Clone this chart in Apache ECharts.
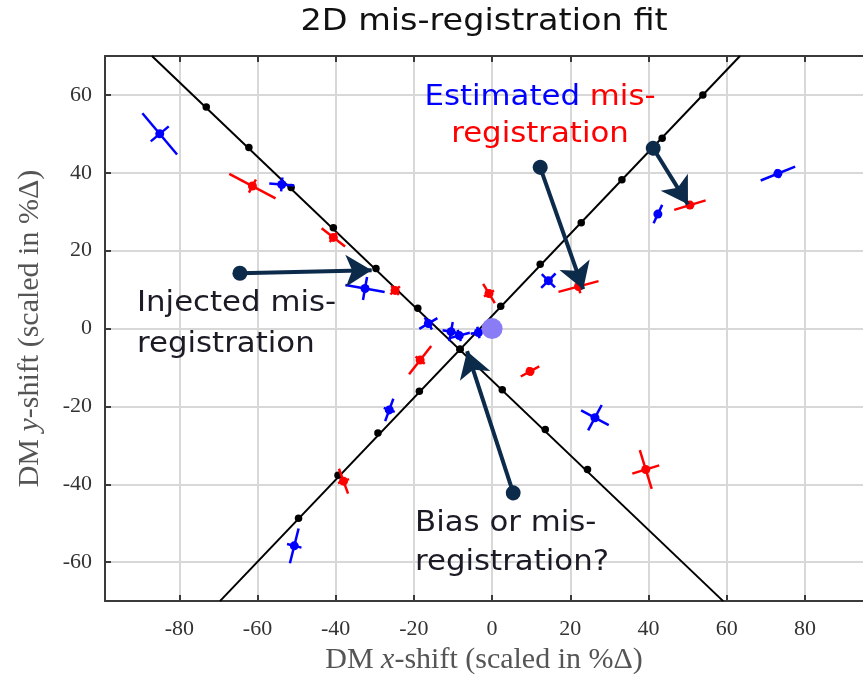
<!DOCTYPE html>
<html>
<head>
<meta charset="utf-8">
<script src="https://cdn.jsdelivr.net/npm/echarts@6/dist/echarts.min.js"></script>
<style>html,body{margin:0;padding:0;background:#fff}#c{width:863px;height:680px}</style>
</head>
<body>
<div id="c"></div>
<script>
// ---------- data ----------
const xTicks = [-80, -60, -40, -20, 0, 20, 40, 60, 80];
const yTicks = [-60, -40, -20, 0, 20, 40, 60];
// injected mis-registration lines (end points) and injected points
const fitLineDown = [[-87, 70], [59.1, -70]];
const fitLineUp = [[-69.6, -70], [63.4, 70]];
const injectedDown = [[-73.1,56.9],[-62.2,46.5],[-51.4,36.2],[-40.6,25.9],[-29.7,15.4],[-19.0,5.2],[-8.2,-5.3],[2.6,-15.7],[13.6,-25.9],[24.4,-36.2]];
const injectedUp = [[-49.5,-48.7],[-39.4,-37.7],[-29.2,-26.8],[-18.6,-16.1],[-8.2,-5.3],[2.2,5.7],[12.3,16.5],[22.8,27.2],[33.2,38.2],[43.5,48.9],[53.9,60.0]];
// estimated points: [x, y, major half-length, major angle (deg), minor half-length]
const estimatedBlue = [
  [-85.0, 50.0, 6.9, -50, 3.0],
  [-53.8, 37.0, 3.2, -5, 1.8],
  [-32.5, 10.3, 5.1, -10, 3.0],
  [-16.3, 1.3, 2.7, 31, 1.8],
  [-10.5, -0.8, 2.5, 80, 2.2],
  [-8.4, -1.8, 2.8, 15, 1.5],
  [-3.5, -1.0, 2.0, 10, 1.5],
  [14.4, 12.3, 2.4, -45, 2.6],
  [42.4, 29.4, 2.6, 65, 1.0],
  [73.1, 39.8, 4.75, 22, 1.2],
  [-26.3, -20.9, 3.05, 70, 1.5],
  [-50.6, -55.8, 4.6, 76, 1.9],
  [26.3, -22.9, 4.0, -28, 3.7]
];
const estimatedRed = [
  [-61.3, 36.6, 6.7, -28, 1.9],
  [-40.6, 23.4, 3.8, -38, 1.5],
  [-24.8, 9.8, 1.6, 40, 1.5],
  [-0.8, 9.0, 2.9, -59, 1.5],
  [-18.4, -8.1, 4.6, 52, 1.5],
  [9.7, -11.0, 2.7, 29, 1.2],
  [22.1, 10.8, 5.3, 15, 1.8],
  [50.6, 31.7, 4.2, 17, 1.0],
  [-38.0, -39.2, 3.4, -70, 1.5],
  [39.3, -36.2, 5.2, -73, 3.6]
];
const biasPoint = [[0, 0]];
// annotation arrows: [start, tip]
const arrows = [
  [[-64.5, 14.2], [-30.8, 15.0]],
  [[12.3, 41.4], [23.3, 10.1]],
  [[41.2, 46.3], [50.1, 31.9]],
  [[5.4, -42.2], [-6.4, -5.8]]
];

// ---------- chart ----------
const chart = echarts.init(document.getElementById('c'));
const NAVY = '#0c2a4a';
const sansFont = 'DejaVu Sans';
const annSize = 28;
const DARK = '#1b1b26';

function makeRender(color) {
  return function (params, api) {
    const x = api.value(0), y = api.value(1);
    const L1 = api.value(2), a = api.value(3) * Math.PI / 180, L2 = api.value(4);
    const b = a + Math.PI / 2;
    const c = api.coord([x, y]);
    const p1 = api.coord([x + L1 * Math.cos(a), y + L1 * Math.sin(a)]);
    const p2 = api.coord([x - L1 * Math.cos(a), y - L1 * Math.sin(a)]);
    const q1 = api.coord([x + L2 * Math.cos(b), y + L2 * Math.sin(b)]);
    const q2 = api.coord([x - L2 * Math.cos(b), y - L2 * Math.sin(b)]);
    const ls = { stroke: color, lineWidth: 2.5 };
    return {
      type: 'group',
      children: [
        { type: 'line', shape: { x1: p1[0], y1: p1[1], x2: p2[0], y2: p2[1] }, style: ls },
        { type: 'line', shape: { x1: q1[0], y1: q1[1], x2: q2[0], y2: q2[1] }, style: ls },
        { type: 'circle', shape: { cx: c[0], cy: c[1], r: 4.5 }, style: { fill: color } }
      ]
    };
  };
}

const tickFont = { fontFamily: 'Liberation Serif', fontSize: 22, color: '#333' };
const nameStyle = {
  fontFamily: 'Liberation Serif', fontSize: 30, color: '#555',
  rich: { i: { fontFamily: 'Liberation Serif', fontStyle: 'italic', fontSize: 30, color: '#555' } }
};

function ann(text, x, y, align, fill, rich, sx) {
  const style = { text: text, x: 0, y: 0, align: align, verticalAlign: 'middle',
    fontFamily: sansFont, fontSize: annSize, fill: fill || DARK };
  if (rich) style.rich = rich;
  return { type: 'text', x: x, y: y, scaleX: sx || 1.1, z: 100, style: style };
}

const option = {
  animation: false,
  backgroundColor: '#fff',
  grid: { left: 105, right: 0, top: 56, bottom: 77 },
  xAxis: [{
    type: 'value', min: -99, max: 94.86, position: 'bottom',
    name: 'DM {i|x}-shift (scaled in %Δ)', nameLocation: 'middle', nameGap: 43,
    nameTextStyle: nameStyle,
    axisLine: { show: true, onZero: false, lineStyle: { color: '#3a3a3a', width: 2 } },
    axisTick: { show: true, inside: true, length: 6, customValues: xTicks, lineStyle: { color: '#3a3a3a', width: 2 } },
    axisLabel: Object.assign({ customValues: xTicks, margin: 17, formatter: v => String(v) }, tickFont),
    splitLine: { show: true, customValues: xTicks, lineStyle: { color: '#d8d8d8', width: 2 } }
  }, {
    type: 'value', min: -99, max: 94.86, position: 'top',
    axisLine: { show: true, onZero: false, lineStyle: { color: '#3a3a3a', width: 2 } },
    axisTick: { show: true, inside: true, length: 6, customValues: xTicks, lineStyle: { color: '#3a3a3a', width: 2 } },
    axisLabel: { show: false },
    splitLine: { show: false }
  }],
  yAxis: [{
    type: 'value', min: -70, max: 70, position: 'left',
    name: 'DM {i|y}-shift (scaled in %Δ)', nameLocation: 'middle', nameGap: 60,
    nameTextStyle: nameStyle,
    axisLine: { show: true, onZero: false, lineStyle: { color: '#3a3a3a', width: 2 } },
    axisTick: { show: true, inside: true, length: 6, customValues: yTicks, lineStyle: { color: '#3a3a3a', width: 2 } },
    axisLabel: Object.assign({ customValues: yTicks, margin: 13, formatter: v => String(v) }, tickFont),
    splitLine: { show: true, customValues: yTicks, lineStyle: { color: '#d8d8d8', width: 2 } }
  }],
  series: [
    { type: 'line', data: fitLineDown, showSymbol: false, lineStyle: { color: '#000', width: 2 }, z: 3, silent: true },
    { type: 'line', data: fitLineUp, showSymbol: false, lineStyle: { color: '#000', width: 2 }, z: 3, silent: true },
    { type: 'scatter', data: injectedDown, symbolSize: 7.5, itemStyle: { color: '#000', opacity: 1 }, z: 4, silent: true },
    { type: 'scatter', data: injectedUp, symbolSize: 7.5, itemStyle: { color: '#000', opacity: 1 }, z: 4, silent: true },
    { type: 'custom', data: estimatedRed, renderItem: makeRender('#ff0000'), z: 5, silent: true },
    { type: 'custom', data: estimatedBlue, renderItem: makeRender('#0000ff'), z: 5, silent: true },
    { type: 'scatter', data: biasPoint, symbolSize: 21, itemStyle: { color: '#8a7cf4', opacity: 1 }, z: 6, silent: true },
    {
      type: 'line', data: [], z: 8, silent: true,
      markLine: {
        silent: true, animation: false, z: 8,
        label: { show: false },
        lineStyle: { color: NAVY, width: 4, type: 'solid', opacity: 1 },
        emphasis: { disabled: true },
        data: arrows.map(a => [
          { coord: a[0], symbol: 'circle', symbolSize: 15 },
          { coord: a[1], symbol: 'arrow', symbolSize: [24, 26] }
        ])
      }
    }
  ],
  graphic: [
    { type: 'text', x: 484, y: 22, scaleX: 1.08, z: 100,
      style: { text: '2D mis-registration fit', x: 0, y: 0, align: 'center', verticalAlign: 'middle',
        fontFamily: sansFont, fontSize: 31, fill: '#111' } },
    ann('{b|Estimated} {r|mis-}', 540, 98, 'center', '#ff0000', {
      b: { fill: '#0000ff', fontFamily: sansFont, fontSize: annSize },
      r: { fill: '#ff0000', fontFamily: sansFont, fontSize: annSize } }),
    ann('registration', 540, 135, 'center', '#ff0000'),
    ann('Injected mis-', 137, 304, 'left'),
    ann('registration', 137, 345, 'left'),
    ann('Bias or mis-', 415, 524, 'left'),
    ann('registration?', 415, 563, 'left')
  ]
};
chart.setOption(option);
</script>
</body>
</html>
